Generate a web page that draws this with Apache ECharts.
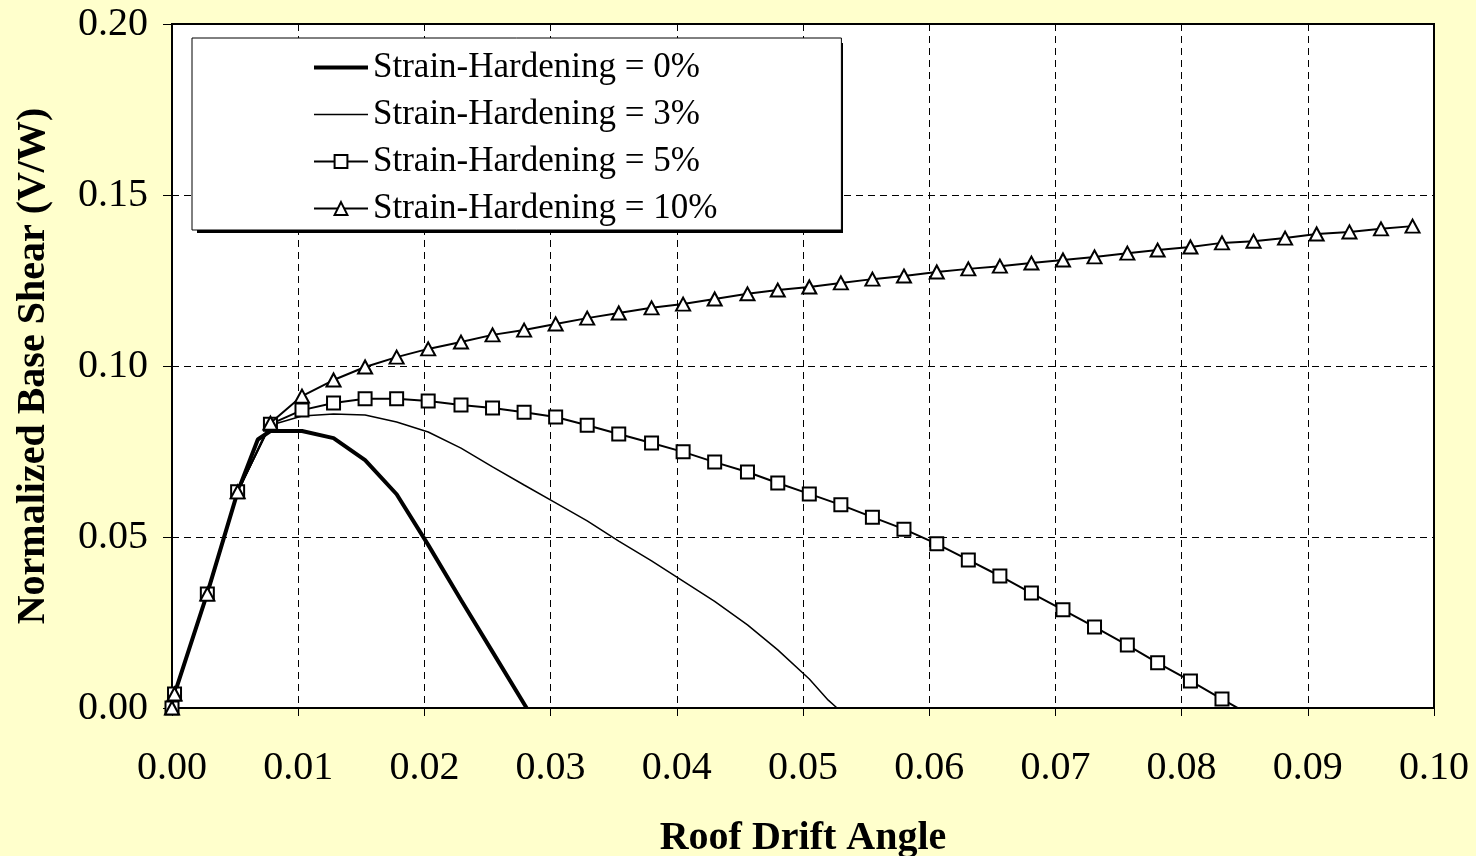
<!DOCTYPE html>
<html>
<head>
<meta charset="utf-8">
<script src="https://cdn.jsdelivr.net/npm/echarts@6/dist/echarts.min.js"></script>
<style>
  html, body { margin: 0; padding: 0; background: #FFFFCC; }
  #chart { width: 1476px; height: 856px; }
</style>
</head>
<body>
<div id="chart"></div>
<script>
// Pushover curves: normalized base shear vs. roof drift angle

// Strain-hardening 0 % (no markers)
const drift0 = [0, 0.0002, 0.0028, 0.0052, 0.0068, 0.0078, 0.0103, 0.0128, 0.0153, 0.0178, 0.0203, 0.0229, 0.0254, 0.0281];
const shear0 = [0, 0.0041, 0.0336, 0.0632, 0.0785, 0.0810, 0.0810, 0.0789, 0.0725, 0.0625, 0.0477, 0.0316, 0.0164, 0.0];

// Strain-hardening 3 % (no markers)
const drift3 = [0, 0.0002, 0.0028, 0.0052, 0.0078, 0.0103, 0.0128, 0.0153, 0.0178, 0.0203, 0.0229, 0.0254, 0.0279,
                0.0304, 0.0329, 0.0354, 0.0380, 0.0405, 0.0430, 0.0456, 0.0480, 0.0505, 0.0520, 0.0527];
const shear3 = [0, 0.0041, 0.0333, 0.0632, 0.0827, 0.0854, 0.0860, 0.0857, 0.0836, 0.0807, 0.0760, 0.0705, 0.0652,
                0.0600, 0.0547, 0.0488, 0.0430, 0.0371, 0.0312, 0.0243, 0.0170, 0.0085, 0.0023, 0.0];

// Drift steps shared by the 5 % and 10 % curves (marked points)
const driftMarked = [0, 0.0002, 0.0028, 0.0052, 0.0078, 0.0103, 0.0128, 0.0153, 0.0178, 0.0203,
                     0.0229, 0.0254, 0.0279, 0.0304, 0.0329, 0.0354, 0.0380, 0.0405, 0.0430, 0.0456,
                     0.0480, 0.0505, 0.0530, 0.0555, 0.0580, 0.0606, 0.0631, 0.0656, 0.0681, 0.0706,
                     0.0731, 0.0757, 0.0781, 0.0807, 0.0832, 0.0857, 0.0882, 0.0907, 0.0933, 0.0958, 0.0983];

// Strain-hardening 5 % (squares); last step falls below zero and is clipped by the axis
const shear5 = [0, 0.0041, 0.0333, 0.0632, 0.0830, 0.0871, 0.0892, 0.0904, 0.0904, 0.0898,
                0.0886, 0.0877, 0.0865, 0.0851, 0.0827, 0.0801, 0.0775, 0.0749, 0.0719, 0.0690,
                0.0658, 0.0626, 0.0594, 0.0558, 0.0523, 0.0480, 0.0433, 0.0386, 0.0336, 0.0287,
                0.0237, 0.0184, 0.0132, 0.0079, 0.0026, -0.0026];

// Strain-hardening 10 % (triangles)
const shear10 = [0, 0.0041, 0.0333, 0.0632, 0.0833, 0.0912, 0.0959, 0.0997, 0.1026, 0.1050,
                 0.1070, 0.1091, 0.1105, 0.1123, 0.1140, 0.1155, 0.1170, 0.1181, 0.1196, 0.1211,
                 0.1222, 0.1231, 0.1243, 0.1254, 0.1263, 0.1275, 0.1284, 0.1292, 0.1301, 0.1310,
                 0.1319, 0.1330, 0.1339, 0.1348, 0.1360, 0.1365, 0.1374, 0.1386, 0.1392, 0.1401, 0.1409];

const seriesNames = ['Strain-Hardening = 0%', 'Strain-Hardening = 3%', 'Strain-Hardening = 5%', 'Strain-Hardening = 10%'];

const xTicks = { min: 0, max: 0.10, step: 0.01 };
const yTicks = { min: 0, max: 0.20, step: 0.05 };

function pairs(xs, ys) {
  return ys.map((y, i) => [xs[i], y]);
}

const SERIF = '"Liberation Serif", "Times New Roman", serif';
const chart = echarts.init(document.getElementById('chart'), null, { renderer: 'canvas' });

const gridDash = { color: '#000', width: 1, type: [7, 5] };

// legend frame geometry (the drop shadow sits behind it)
const LEG = { left: 192, top: 38, width: 646, height: 190, shadow: 5 };

chart.setOption({
  backgroundColor: '#FFFFCC',
  animation: false,
  grid: {
    left: 172, right: 42, top: 24, bottom: 148,
    containLabel: false, outerBoundsMode: 'none',
    show: true, backgroundColor: '#FFFFFF', borderColor: '#000', borderWidth: 2
  },
  graphic: [{
    type: 'rect', z: 20,
    shape: { x: LEG.left + LEG.shadow, y: LEG.top + LEG.shadow, width: LEG.width, height: LEG.height },
    style: { fill: '#000' }
  }],
  legend: {
    data: [
      { name: seriesNames[0], itemStyle: { opacity: 0 }, lineStyle: { width: 4 } },
      { name: seriesNames[1], itemStyle: { opacity: 0 }, lineStyle: { width: 1.5 } },
      { name: seriesNames[2], lineStyle: { width: 2 } },
      { name: seriesNames[3], lineStyle: { width: 2 } }
    ],
    orient: 'vertical',
    left: LEG.left, top: LEG.top,
    padding: [11, 124, 3, 120],
    itemWidth: 54, itemHeight: 16, itemGap: 10,
    backgroundColor: '#FFFFFF',
    borderColor: '#000', borderWidth: 1,
    z: 30,
    textStyle: { fontFamily: SERIF, fontSize: 35, color: '#000', lineHeight: 37 }
  },
  xAxis: {
    type: 'value', min: xTicks.min, max: xTicks.max, interval: xTicks.step,
    name: 'Roof Drift Angle', nameLocation: 'middle', nameGap: 111,
    nameTextStyle: { fontFamily: SERIF, fontSize: 40, fontWeight: 'bold', color: '#000' },
    axisLine: { show: true, onZero: false, lineStyle: { color: '#000', width: 2 } },
    axisTick: { show: true, inside: false, length: 8, lineStyle: { color: '#000', width: 1 } },
    axisLabel: { fontFamily: SERIF, fontSize: 40, color: '#000', margin: 40,
                 formatter: v => v.toFixed(2) },
    splitLine: { show: true, lineStyle: gridDash }
  },
  yAxis: {
    type: 'value', min: yTicks.min, max: yTicks.max, interval: yTicks.step,
    name: 'Normalized Base Shear (V/W)', nameLocation: 'middle', nameGap: 118,
    nameTextStyle: { fontFamily: SERIF, fontSize: 40, fontWeight: 'bold', color: '#000' },
    axisLine: { show: true, onZero: false, lineStyle: { color: '#000', width: 2 } },
    axisTick: { show: true, inside: false, length: 9, lineStyle: { color: '#000', width: 1 } },
    axisLabel: { fontFamily: SERIF, fontSize: 40, color: '#000', margin: 24,
                 formatter: v => v.toFixed(2) },
    splitLine: { show: true, lineStyle: gridDash }
  },
  series: [
    {
      name: seriesNames[0], type: 'line', data: pairs(drift0, shear0),
      symbol: 'none', lineStyle: { color: '#000', width: 4 }, itemStyle: { color: '#000' },
      clip: true, z: 3
    },
    {
      name: seriesNames[1], type: 'line', data: pairs(drift3, shear3),
      symbol: 'none', lineStyle: { color: '#000', width: 1.5 }, itemStyle: { color: '#000' },
      clip: true, z: 3
    },
    {
      name: seriesNames[2], type: 'line', data: pairs(driftMarked, shear5),
      symbol: 'rect', symbolSize: 13,
      lineStyle: { color: '#000', width: 2 },
      itemStyle: { color: '#FFFFFF', borderColor: '#000', borderWidth: 2 },
      clip: true, z: 4
    },
    {
      name: seriesNames[3], type: 'line', data: pairs(driftMarked, shear10),
      symbol: 'triangle', symbolSize: [14, 13],
      lineStyle: { color: '#000', width: 2 },
      itemStyle: { color: '#FFFFFF', borderColor: '#000', borderWidth: 2 },
      clip: true, z: 5
    }
  ]
});
</script>
</body>
</html>
